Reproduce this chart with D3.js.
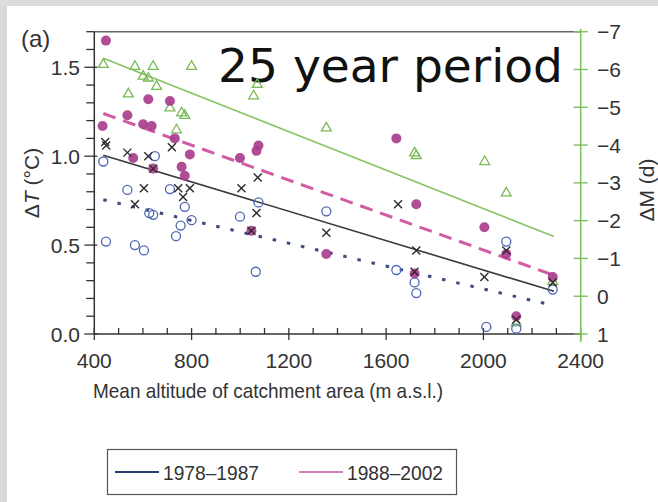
<!DOCTYPE html>
<html><head><meta charset="utf-8">
<script src="https://cdn.jsdelivr.net/npm/d3@7"></script>
<style>
html,body{margin:0;padding:0;background:#fff;}
svg{display:block;font-family:"Liberation Sans",Arial,sans-serif;}
</style></head>
<body>
<svg id="c" width="658" height="502"></svg>
<script>
// ---- data ----
const magentaAlt = [448,434,536,560,601,622,636,642,711,731,759,772,793,999,1046,1067,1075,1354,1642,1717,1724,2004,2094,2135,2285];
const magentaDT  = [1.65,1.17,1.23,0.99,1.18,1.32,1.17,0.93,1.31,1.10,0.94,0.89,1.01,0.99,0.58,1.03,1.06,0.45,1.10,0.34,0.73,0.60,0.45,0.10,0.32];

const blueAlt = [437,448,536,567,604,626,642,649,711,736,755,772,800,999,1064,1075,1354,1642,1717,1724,2012,2094,2135,2285];
const blueDT  = [0.97,0.52,0.81,0.50,0.47,0.68,0.67,1.00,0.815,0.55,0.61,0.715,0.64,0.66,0.35,0.74,0.69,0.36,0.29,0.23,0.04,0.52,0.03,0.25];

const crossAlt = [445,449,536,567,604,622,642,719,745,765,793,1005,1046,1067,1072,1354,1649,1717,1724,2004,2094,2135,2285];
const crossDT  = [1.08,1.06,1.02,0.73,0.82,1.00,0.93,1.05,0.82,0.77,0.82,0.82,0.58,0.68,0.88,0.57,0.73,0.35,0.47,0.32,0.47,0.08,0.29];

const triAlt = [437,540,567,601,622,642,656,711,738,759,772,800,1055,1070,1354,1717,1724,2005,2094,2135,2285];
const triDM  = [-6.13,-5.35,-6.08,-5.82,-5.77,-6.08,-5.55,-4.98,-4.40,-4.85,-4.78,-6.08,-5.3,-5.6,-4.45,-3.79,-3.72,-3.56,-2.73,0.71,-0.39];

// regression lines (endpoints)
const fitAlt      = [437, 2290];
const fitBlack    = [1.005, 0.24];
const fitMagenta  = [1.24, 0.33];
const fitBlue     = [0.755, 0.16];
const fitGreen    = [-6.3, -1.58];

const xTicks  = [400, 800, 1200, 1600, 2000, 2400];
const yTicks  = [0.0, 0.5, 1.0, 1.5];
const y2Ticks = [-7, -6, -5, -4, -3, -2, -1, 0, 1];
const legendLabels = ["1978\u20131987", "1988\u20132002"];

// ---- drawing ----
const svg = d3.select("#c");
const L = 94.3, R = 580.7, T = 31.7, B = 334;

// background edges like the scanned reference
svg.append("rect").attr("x",0).attr("y",0).attr("width",658).attr("height",502).attr("fill","#fff");
svg.append("rect").attr("x",0).attr("y",0).attr("width",7).attr("height",502).attr("fill","#d9d9d9");
svg.append("rect").attr("x",0).attr("y",0).attr("width",658).attr("height",6).attr("fill","#dcdcdc");

const x  = d3.scaleLinear().domain([400, 2400]).range([L, R]);
const y  = d3.scaleLinear().domain([0, 1.7]).range([B, T]);
const y2 = d3.scaleLinear().domain([1, -7]).range([B, T]);

const fs = 21;

// frame top
svg.append("line").attr("x1",L).attr("x2",R).attr("y1",T).attr("y2",T).attr("stroke","#666").attr("stroke-width",1.6);

// x axis
const gx = svg.append("g").attr("transform",`translate(0,${B})`);
gx.append("line").attr("x1",L).attr("x2",R).attr("stroke","#333").attr("stroke-width",1.5);
d3.range(400, 2401, 100).forEach(v=>{
  const major = v % 400 === 0;
  gx.append("line").attr("x1",x(v)).attr("x2",x(v)).attr("y1",-6).attr("y2",major?6:0)
    .attr("stroke","#333").attr("stroke-width",1.3);
});
gx.selectAll("text.xt").data(xTicks).enter().append("text")
  .attr("x",d=>x(d)).attr("y",34).attr("text-anchor","middle")
  .attr("font-size",fs).attr("fill","#333").text(d=>d);

// left y axis
const gy = svg.append("g");
gy.append("line").attr("x1",L).attr("x2",L).attr("y1",T).attr("y2",B).attr("stroke","#333").attr("stroke-width",1.5);
d3.range(0, 18).forEach(i=>{
  const v = i/10;
  const major = i % 5 === 0;
  gy.append("line").attr("x1",major?L-10:L-8).attr("x2",major?L+3:L).attr("y1",y(v)).attr("y2",y(v))
    .attr("stroke","#333").attr("stroke-width",1.3);
});
gy.selectAll("text.yt").data(yTicks).enter().append("text")
  .attr("x",80).attr("y",d=>y(d)+7.5).attr("text-anchor","end")
  .attr("font-size",fs).attr("fill","#333").text(d=>d.toFixed(1));

// right (green) axis
const green = "#7cbf5c";
const g2 = svg.append("g");
g2.append("line").attr("x1",R).attr("x2",R).attr("y1",T-3).attr("y2",B+8).attr("stroke",green).attr("stroke-width",1.5);
y2Ticks.forEach(v=>{
  g2.append("line").attr("x1",R-7).attr("x2",R+7).attr("y1",y2(v)).attr("y2",y2(v)).attr("stroke",green).attr("stroke-width",1.4);
});
g2.selectAll("text").data(y2Ticks).enter().append("text")
  .attr("x",597).attr("y",d=>y2(d)+7.5).attr("text-anchor","start")
  .attr("font-size",fs).attr("fill","#333").text(d=>d<0?"\u2212"+Math.abs(d):String(d));

// axis titles
svg.append("text").attr("x",268).attr("y",398).attr("text-anchor","middle")
  .attr("font-size",fs).attr("fill","#333").attr("textLength",350).attr("lengthAdjust","spacingAndGlyphs")
  .text("Mean altitude of catchment area (m a.s.l.)");

const yl = svg.append("text").attr("transform","translate(39,183) rotate(-90)").attr("text-anchor","middle")
  .attr("font-size",fs).attr("fill","#333");
yl.append("tspan").text("\u0394");
yl.append("tspan").attr("font-style","italic").text("T");
yl.append("tspan").text(" (\u00B0C)");

svg.append("text").attr("transform","translate(654,190) rotate(-90)").attr("text-anchor","middle")
  .attr("font-size",fs).attr("fill","#333").text("\u0394M (d)");

svg.append("text").attr("x",21).attr("y",47).attr("font-size",24).attr("fill","#333").text("(a)");

svg.append("text").attr("x",218).attr("y",82).attr("font-size",46).attr("fill","#111")
  .attr("font-family","'DejaVu Sans',sans-serif")
  .attr("textLength",345).attr("lengthAdjust","spacingAndGlyphs").text("25 year period");

// fit lines
const fl = (vals, sc) => d3.line().x((d,i)=>x(fitAlt[i])).y(d=>sc(d))(vals);
svg.append("path").attr("d",fl(fitGreen,y2)).attr("stroke","#86c463").attr("stroke-width",1.6).attr("fill","none");
svg.append("path").attr("d",fl(fitBlack,y)).attr("stroke","#3a3a3a").attr("stroke-width",1.6).attr("fill","none");
svg.append("path").attr("d",fl(fitMagenta,y)).attr("stroke","#d35ba3").attr("stroke-width",3)
  .attr("stroke-dasharray","13,8").attr("fill","none");
svg.append("path").attr("d",fl(fitBlue,y)).attr("stroke","#3f4d7e").attr("stroke-width",3)
  .attr("stroke-dasharray","3.5,11").attr("fill","none");

// markers
const tri = d3.symbol().type(d3.symbolTriangle).size(42);
svg.append("g").selectAll("path").data(triAlt).enter().append("path")
  .attr("d",tri).attr("transform",(d,i)=>`translate(${x(d)},${y2(triDM[i])})`)
  .attr("fill","none").attr("stroke","#78ba55").attr("stroke-width",1.3);

svg.append("g").selectAll("circle").data(blueAlt).enter().append("circle")
  .attr("cx",d=>x(d)).attr("cy",(d,i)=>y(blueDT[i])).attr("r",4.5)
  .attr("fill","none").attr("stroke","#4c66b3").attr("stroke-width",1.3);

svg.append("g").selectAll("circle").data(magentaAlt).enter().append("circle")
  .attr("cx",d=>x(d)).attr("cy",(d,i)=>y(magentaDT[i])).attr("r",5)
  .attr("fill","#a83a8c").attr("fill-opacity",0.9);

const cs = 4;
const cg = svg.append("g").attr("stroke","#2a2a2a").attr("stroke-width",1.4);
crossAlt.forEach((a,i)=>{
  const cx = x(a), cy = y(crossDT[i]);
  cg.append("line").attr("x1",cx-cs).attr("y1",cy-cs).attr("x2",cx+cs).attr("y2",cy+cs);
  cg.append("line").attr("x1",cx-cs).attr("y1",cy+cs).attr("x2",cx+cs).attr("y2",cy-cs);
});

// legend
const lg = svg.append("g");
lg.append("rect").attr("x",107.5).attr("y",449.5).attr("width",349).attr("height",45)
  .attr("fill","#fff").attr("stroke","#555").attr("stroke-width",1.2);
const legendColors = ["#2b3d70","#d57cc0"];
const legendX = [115, 299];
legendLabels.forEach((t,i)=>{
  lg.append("line").attr("x1",legendX[i]).attr("x2",legendX[i]+44).attr("y1",472).attr("y2",472)
    .attr("stroke",legendColors[i]).attr("stroke-width",2.2);
  lg.append("text").attr("x",legendX[i]+48).attr("y",480).attr("font-size",19.5).attr("fill","#333")
    .attr("textLength",96).attr("lengthAdjust","spacingAndGlyphs").text(t);
});
</script>
</body></html>
